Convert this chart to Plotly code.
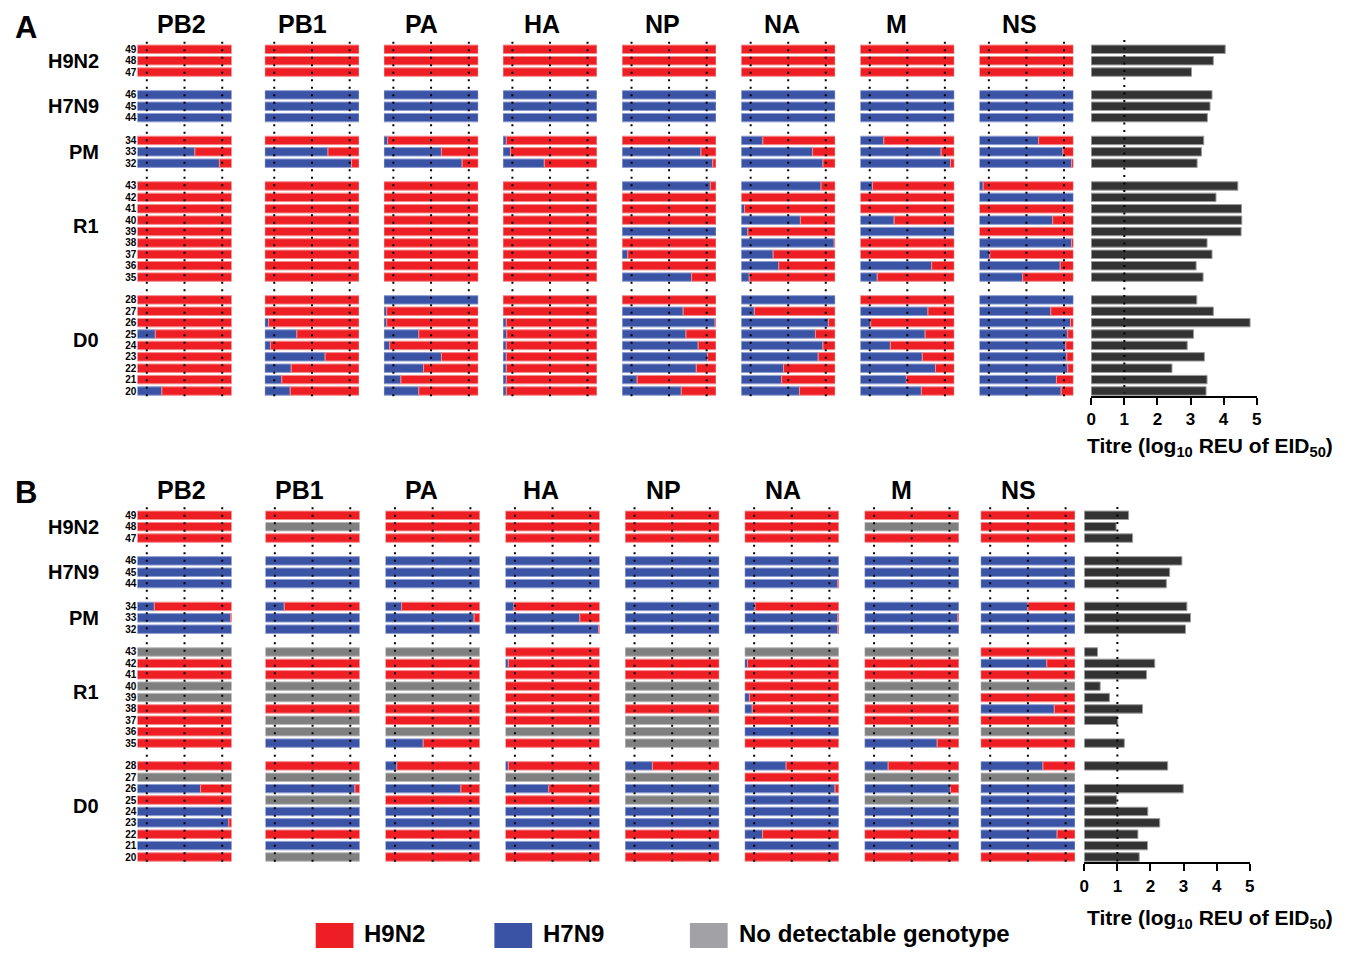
import plotly.graph_objects as go

# page body has an 8px margin: the figure is drawn from screen pixel 8
OFF = 8
W, H = 1346, 942

# ---------------- data ----------------
rows = [49, 48, 47, 46, 45, 44, 34, 33, 32,
        43, 42, 41, 40, 39, 38, 37, 36, 35,
        28, 27, 26, 25, 24, 23, 22, 21, 20]
group_names = ["H9N2", "H7N9", "PM", "R1", "D0"]
group_sizes = [3, 3, 3, 9, 9]
segments = ["PB2", "PB1", "PA", "HA", "NP", "NA", "M", "NS"]
titre_ticks = [0, 1, 2, 3, 4, 5]

# fraction of H7N9 (blue) genotype per row, rest H9N2 (red); None = no detectable genotype
A_PB2 = [0, 0, 0, 1, 1, 1, 0, 0.61, 0.87, 0, 0, 0, 0, 0, 0, 0, 0, 0, 0, 0, 0, 0.19, 0, 0, 0, 0, 0.26]
A_PB1 = [0, 0, 0, 1, 1, 1, 0, 0.67, 0.92, 0, 0, 0, 0, 0, 0, 0, 0, 0, 0, 0, 0.04, 0.34, 0.06, 0.64, 0.28, 0.18, 0.27]
A_PA = [0, 0, 0, 1, 1, 1, 0.04, 0.61, 0.83, 0, 0, 0, 0, 0, 0, 0, 0, 0, 1, 0.03, 0.03, 0.37, 0.06, 0.61, 0.42, 0.18, 0.37]
A_HA = [0, 0, 0, 1, 1, 1, 0.035, 0.08, 0.44, 0, 0, 0, 0, 0, 0, 0, 0, 0, 0, 0, 0.035, 0.04, 0.035, 0.035, 0.035, 0.035, 0.035]
A_NP = [0, 0, 0, 1, 1, 1, 0, 0.84, 0.965, 0.94, 0, 0, 0, 1, 0, 0.06, 0, 0.74, 0, 0.65, 0.99, 0.68, 0.81, 0.91, 0.79, 0.16, 0.63]
A_NA = [0, 0, 0, 1, 1, 1, 0.23, 0.76, 0.87, 0.85, 0, 0.035, 0.63, 0.07, 0.99, 0.34, 0.40, 0.085, 1, 0.14, 0.93, 0.79, 0.87, 0.82, 0.45, 0.43, 0.62]
A_M = [0, 0, 0, 1, 1, 1, 0.25, 0.86, 0.96, 0.13, 0, 0, 0.36, 1, 0, 0, 0.76, 0.18, 0, 0.72, 0.11, 0.69, 0.32, 0.66, 0.80, 0.49, 0.65]
A_NS = [0, 0, 0, 1, 1, 1, 0.63, 0.89, 0.98, 0.04, 1, 0, 0.78, 0, 0.98, 0.11, 0.86, 0.46, 1, 0.76, 0.97, 0.94, 0.92, 0.93, 0.94, 0.82, 0.87]
A_titre = [4.05, 3.69, 3.03, 3.65, 3.59, 3.51, 3.40, 3.33, 3.20,
           4.43, 3.77, 4.54, 4.55, 4.53, 3.50, 3.65, 3.17, 3.38,
           3.19, 3.69, 4.80, 3.09, 2.90, 3.42, 2.44, 3.50, 3.47]

B_PB2 = [0, 0, 0, 1, 1, 1, 0.18, 0.99, 1, None, 0, 0, None, None, 0, 0, 0, 0, 0, None, 0.67, 0, 1, 0.97, 0, 1, 0]
B_PB1 = [0, None, 0, 1, 1, 1, 0.2, 1, 1, None, 0, 0, None, None, 0, None, None, 1, 0, None, 0.95, None, 1, 1, 0, 1, None]
B_PA = [0, 0, 0, 1, 1, 1, 0.17, 0.94, 1, None, 0, 0, None, None, 0, 0, None, 0.40, 0.12, None, 0.80, 0, 1, 1, 0, 1, 0]
B_HA = [0, 0, 0, 1, 1, 1, 0.09, 0.79, 0.99, 0, 0.03, 0, 0, 0, 0, 0, None, 0, 0.03, None, 0.46, 0, 1, 1, 0, 1, 0]
B_NP = [0, 0, 0, 1, 1, 1, 1, 1, 1, None, 0, 0, None, None, 0, None, None, None, 0.29, None, 1, None, 1, 1, 0, 1, 0]
B_NA = [0, 0, 0, 1, 1, 0.99, 0.11, 0.99, 0.99, None, 0.03, 0, 0, 0.05, 0.08, 0, 1, 0, 0.44, 0, 0.96, 1, 1, 1, 0.19, 1, 0]
B_M = [0, None, 0, 1, 1, 1, 1, 0.99, 1, None, 0, 0, None, None, 0, 0, None, 0.77, 0.25, None, 0.91, None, 1, 1, 0, 1, 0]
B_NS = [0, 0, 0, 1, 1, 1, 0.50, 1, 1, 0, 0.70, 0, None, 0, 0.78, 0, None, 0, 0.66, None, 1, 1, 1, 1, 0.81, 1, 0]
B_titre = [1.34, 0.96, 1.46, 2.95, 2.58, 2.48, 3.10, 3.21, 3.06,
           0.40, 2.13, 1.88, 0.48, 0.76, 1.76, 1.01, None, 1.21,
           2.52, None, 2.99, 0.98, 1.92, 2.28, 1.62, 1.91, 1.66]

legend_labels = ["H9N2", "H7N9", "No detectable genotype"]

# ---------------- styling ----------------
RED, BLUE, GREY = "#ED1F24", "#3A53A4", "#808080"
RED_L, BLUE_L, GREY_L = "#F58A8C", "#8E9DD0", "#B8B8B8"
TITRE_C = "#333333"
LEG_GREY = "#A2A2A6"
FONT = "Liberation Sans"


def fx(p):
    return (p - OFF) / W


def fy(p):
    return 1 - (p - OFF) / H


# slot positions (a gap of one slot between groups)
slots = []
group_centres = []
s = 0
for n in group_sizes:
    group_centres.append(s + (n - 1) / 2 - (0.5 if n > 3 else 0))
    for i in range(n):
        slots.append(s + i)
    s += n + 1

panels = [
    dict(letter="A", data=[A_PB2, A_PB1, A_PA, A_HA, A_NP, A_NA, A_M, A_NS], titre=A_titre,
         top=49.3, step=11.39, letter_y=28, header_y=24,
         cols=[(133.3, 228.3), (261.7, 356.7), (381.7, 476.7), (501.7, 596.3),
               (621.7, 716.3), (741.7, 836.3), (861.7, 956.3), (981.7, 1076.3)],
         headers=[178, 300, 420, 541, 662, 783, 898, 1022],
         titre_px=(1094.3, 1261), axis_y=396.5, title_y=447,
         dots=(-0.67, 30.6), tdots=(-0.82, 30.2)),
    dict(letter="B", data=[B_PB2, B_PB1, B_PA, B_HA, B_NP, B_NA, B_M, B_NS], titre=B_titre,
         top=515.3, step=11.39, letter_y=492, header_y=490,
         cols=[(133.3, 228.3), (262.3, 357.3), (383.3, 478.3), (504.2, 599.0),
               (624.7, 719.5), (745.2, 840.0), (866.0, 961.0), (983.0, 1078.0)],
         headers=[178, 297, 420, 540, 663, 784, 903, 1021],
         titre_px=(1087.3, 1254), axis_y=863.3, title_y=919,
         dots=(-0.7, 30.5), tdots=(-0.73, 30.4)),
]

fig = go.Figure()
layout = dict(width=W, height=H, margin=dict(l=0, r=0, t=0, b=0),
              paper_bgcolor="white", plot_bgcolor="rgba(0,0,0,0)",
              barmode="overlay", showlegend=False, shapes=[], annotations=[],
              font=dict(family=FONT, color="black"))

ax = 0
for pi, P in enumerate(panels):
    yname = "y" if pi == 0 else "y2"
    ykey = "yaxis" if pi == 0 else "yaxis2"
    y_top = P["top"] - P["step"]
    y_bot = P["top"] + 31 * P["step"]
    first_x = None
    for ci, seg in enumerate(segments):
        ax += 1
        xname = "x" if ax == 1 else f"x{ax}"
        xkey = "xaxis" if ax == 1 else f"xaxis{ax}"
        if first_x is None:
            first_x = xname
        x0, x1 = P["cols"][ci]
        layout[xkey] = dict(domain=[fx(x0), fx(x1)], range=[0, 1], anchor=yname,
                            visible=False, fixedrange=True)
        vals = P["data"][ci]
        blue_x = [v if (v is not None and v > 0) else None for v in vals]
        red_x = [(1 - v) if (v is not None and v < 1) else None for v in vals]
        red_b = [v if v is not None else 0 for v in vals]
        grey_x = [1 if v is None else None for v in vals]
        common = dict(orientation="h", y=slots, width=0.74, xaxis=xname, yaxis=yname,
                      hoverinfo="skip")
        fig.add_trace(go.Bar(x=blue_x, base=[0] * len(vals),
                             marker=dict(color=BLUE, line=dict(color=BLUE_L, width=1)), **common))
        fig.add_trace(go.Bar(x=red_x, base=red_b,
                             marker=dict(color=RED, line=dict(color=RED_L, width=1)), **common))
        fig.add_trace(go.Bar(x=grey_x, base=[0] * len(vals),
                             marker=dict(color=GREY, line=dict(color=GREY_L, width=1)), **common))
        for xv in (0.1, 0.5, 0.9):
            layout["shapes"].append(dict(type="line", xref=xname, yref=yname,
                                         x0=xv, x1=xv, y0=P["dots"][0], y1=P["dots"][1],
                                         line=dict(color="black", width=2, dash="2px,5.5px"),
                                         layer="above"))
        layout["annotations"].append(dict(text=seg, x=fx(P["headers"][ci]), y=fy(P["header_y"]),
                                          xref="paper", yref="paper", showarrow=False,
                                          xanchor="center", yanchor="middle",
                                          font=dict(size=25, family=FONT, weight="bold")))
    # titre axis
    ax += 1
    xname = f"x{ax}"
    xkey = f"xaxis{ax}"
    t0, t1 = P["titre_px"]
    layout[xkey] = dict(domain=[fx(t0), fx(t1)], range=[0, 5], anchor="free",
                        position=fy(P["axis_y"]), showline=True, linewidth=2,
                        linecolor="black", ticks="outside", ticklen=7, tickwidth=2,
                        tickcolor="black", tickvals=titre_ticks,
                        ticktext=[str(t) for t in titre_ticks],
                        tickfont=dict(size=17, family=FONT, weight="bold", color="black"),
                        showgrid=False, zeroline=False, fixedrange=True)
    fig.add_trace(go.Bar(x=P["titre"], y=slots, orientation="h", width=0.74,
                         marker=dict(color=TITRE_C, line=dict(color="#9a9a9a", width=1)),
                         xaxis=xname, yaxis=yname, hoverinfo="skip"))
    layout["shapes"].append(dict(type="line", xref=xname, yref=yname, x0=1, x1=1,
                                 y0=P["tdots"][0], y1=P["tdots"][1],
                                 line=dict(color="black", width=2, dash="2px,5.5px"),
                                 layer="above"))
    layout["annotations"].append(dict(
        text="Titre (log<sub>10</sub> REU of EID<sub>50</sub>)",
        x=fx(1214), y=fy(P["title_y"]), xref="paper", yref="paper", showarrow=False,
        xanchor="center", yanchor="middle", font=dict(size=21, family=FONT, weight="bold")))
    # y axis with row numbers
    layout[ykey] = dict(domain=[fy(y_bot), fy(y_top)], range=[31, -1], anchor=first_x,
                        tickvals=slots, ticktext=[str(r) for r in rows],
                        tickfont=dict(size=10, family=FONT, weight="bold", color="black"),
                        ticks="", showline=False, showgrid=False, zeroline=False,
                        fixedrange=True)
    # group labels
    for g, c in zip(group_names, group_centres):
        layout["annotations"].append(dict(text=g, x=fx(97), y=c, xref="paper", yref=yname,
                                          showarrow=False, xanchor="right", yanchor="middle",
                                          font=dict(size=20, family=FONT, weight="bold")))
    # panel letter
    layout["annotations"].append(dict(text=P["letter"], x=fx(8), y=fy(P["letter_y"]),
                                      xref="paper", yref="paper", showarrow=False,
                                      xanchor="left", yanchor="middle",
                                      font=dict(size=31, family=FONT, weight="bold")))

# legend (bottom)
leg_colors = [RED, BLUE, LEG_GREY]
leg_sq_x = [313, 493, 690]
for lab, col, sx in zip(legend_labels, leg_colors, leg_sq_x):
    layout["shapes"].append(dict(type="rect", xref="paper", yref="paper",
                                 x0=fx(sx), x1=fx(sx + 38), y0=fy(948), y1=fy(923),
                                 fillcolor=col, line=dict(width=0)))
    layout["annotations"].append(dict(text=lab, x=fx(sx + 47), y=fy(933), xref="paper",
                                      yref="paper", showarrow=False, xanchor="left",
                                      yanchor="middle",
                                      font=dict(size=24, family=FONT, weight="bold")))

fig.update_layout(**layout)
fig.write_html("out.html")
